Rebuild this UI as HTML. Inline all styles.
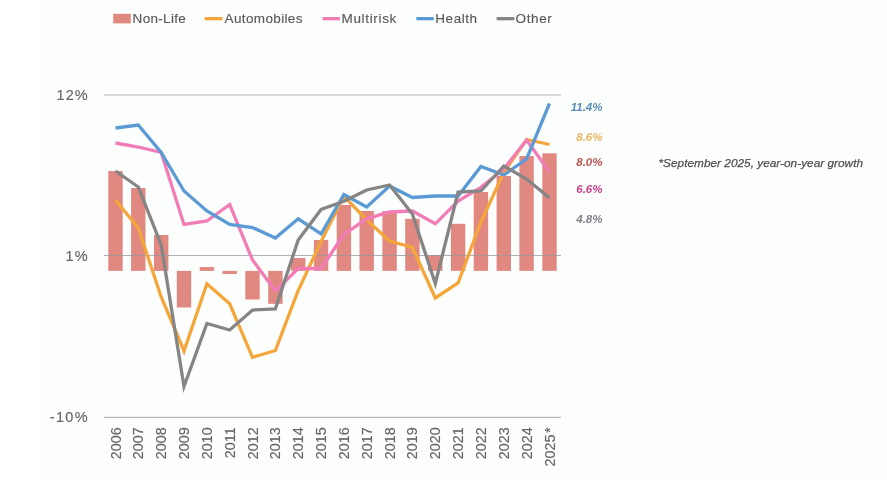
<!DOCTYPE html>
<html lang="en"><head><meta charset="utf-8"><title>Non-Life premium growth</title>
<style>
html,body{margin:0;padding:0;background:#fff;}
body{width:887px;height:500px;overflow:hidden;position:relative;font-family:"Liberation Sans",sans-serif;}
svg{position:absolute;left:0;top:0;display:block;}
text{font-family:"Liberation Sans",sans-serif;}
.ax{font-size:14.5px;fill:#666;stroke:#666;stroke-width:0.15px;}
.lg{font-size:13.5px;fill:#595959;stroke:#595959;stroke-width:0.15px;}
.yr{font-size:14.4px;fill:#666;stroke:#666;stroke-width:0.15px;}
.vl{font-size:11.5px;font-weight:bold;font-style:italic;}
.note{font-size:11.8px;font-style:italic;fill:#505050;stroke:#505050;stroke-width:0.25px;}
</style></head><body>
<svg width="887" height="500" viewBox="0 0 887 500">
<rect x="0" y="0" width="887" height="500" fill="#ffffff"/>
<rect x="40" y="0" width="847" height="479.3" fill="#fdfefe"/>

<line x1="104" x2="561" y1="95" y2="95" stroke="#b8b8b8" stroke-width="1.1"/>
<line x1="104" x2="561" y1="417.4" y2="417.4" stroke="#b8b8b8" stroke-width="1.1"/>
<rect x="108.3" y="171.0" width="14.4" height="99.9" fill="#e18981"/>
<rect x="131.1" y="188.0" width="14.4" height="82.9" fill="#e18981"/>
<rect x="154.0" y="235.0" width="14.4" height="35.9" fill="#e18981"/>
<rect x="176.8" y="270.9" width="14.4" height="36.6" fill="#e18981"/>
<rect x="199.7" y="267.0" width="14.4" height="3.9" fill="#e18981"/>
<rect x="222.5" y="270.9" width="14.4" height="3.1" fill="#e18981"/>
<rect x="245.3" y="270.9" width="14.4" height="28.6" fill="#e18981"/>
<rect x="268.2" y="270.9" width="14.4" height="32.9" fill="#e18981"/>
<rect x="291.0" y="258.0" width="14.4" height="12.9" fill="#e18981"/>
<rect x="313.9" y="240.0" width="14.4" height="30.9" fill="#e18981"/>
<rect x="336.7" y="205.0" width="14.4" height="65.9" fill="#e18981"/>
<rect x="359.5" y="211.0" width="14.4" height="59.9" fill="#e18981"/>
<rect x="382.4" y="211.0" width="14.4" height="59.9" fill="#e18981"/>
<rect x="405.2" y="218.8" width="14.4" height="52.1" fill="#e18981"/>
<rect x="428.1" y="255.0" width="14.4" height="15.9" fill="#e18981"/>
<rect x="450.9" y="223.8" width="14.4" height="47.1" fill="#e18981"/>
<rect x="473.7" y="192.0" width="14.4" height="78.9" fill="#e18981"/>
<rect x="496.6" y="176.0" width="14.4" height="94.9" fill="#e18981"/>
<rect x="519.4" y="156.0" width="14.4" height="114.9" fill="#e18981"/>
<rect x="542.3" y="153.3" width="14.4" height="117.6" fill="#e18981"/>
<line x1="104" x2="561" y1="255.5" y2="255.5" stroke="#94979c" stroke-width="0.75"/>
<polyline points="115.5,200.0 138.3,228.0 161.2,297.0 184.0,351.0 206.9,283.8 229.7,303.8 252.5,357.3 275.4,350.5 298.2,290.5 321.1,241.5 343.9,196.0 366.7,220.0 389.6,241.0 412.4,247.5 435.3,298.0 458.1,283.0 480.9,222.0 503.8,172.5 526.6,139.5 549.5,144.5" fill="none" stroke="#f5a63a" stroke-width="3.3" stroke-linejoin="miter" stroke-miterlimit="10" stroke-linecap="butt"/>
<polyline points="115.5,143.0 138.3,147.0 161.2,152.5 184.0,224.5 206.9,221.0 229.7,204.5 252.5,260.0 275.4,291.0 298.2,268.5 321.1,268.5 343.9,234.5 366.7,218.8 389.6,212.0 412.4,211.0 435.3,223.8 458.1,201.0 480.9,187.3 503.8,169.0 526.6,140.0 549.5,172.0" fill="none" stroke="#f27cb6" stroke-width="3.3" stroke-linejoin="miter" stroke-miterlimit="10" stroke-linecap="butt"/>
<polyline points="115.5,128.0 138.3,125.0 161.2,152.5 184.0,191.0 206.9,211.0 229.7,224.5 252.5,227.5 275.4,238.0 298.2,218.8 321.1,233.8 343.9,194.5 366.7,207.0 389.6,186.0 412.4,197.5 435.3,196.0 458.1,196.0 480.9,166.4 503.8,175.0 526.6,159.0 549.5,103.5" fill="none" stroke="#5b9bd5" stroke-width="3.3" stroke-linejoin="miter" stroke-miterlimit="10" stroke-linecap="butt"/>
<polyline points="115.5,171.0 138.3,187.0 161.2,245.0 184.0,386.5 206.9,323.5 229.7,330.0 252.5,310.0 275.4,308.8 298.2,240.0 321.1,209.5 343.9,201.3 366.7,190.0 389.6,185.0 412.4,214.0 435.3,283.5 458.1,192.0 480.9,191.0 503.8,166.0 526.6,179.0 549.5,198.0" fill="none" stroke="#858585" stroke-width="3.3" stroke-linejoin="miter" stroke-miterlimit="10" stroke-linecap="butt"/>
<text class="ax" x="56.5" y="99.8" textLength="31.2" lengthAdjust="spacing">12%</text>
<text class="ax" x="65.5" y="261.3" textLength="22.2" lengthAdjust="spacing">1%</text>
<text class="ax" x="49.7" y="422.0" textLength="38" lengthAdjust="spacing">-10%</text>
<text class="yr" text-anchor="end" transform="translate(120.5,427.3) rotate(-90)">2006</text>
<text class="yr" text-anchor="end" transform="translate(143.3,427.3) rotate(-90)">2007</text>
<text class="yr" text-anchor="end" transform="translate(166.2,427.3) rotate(-90)">2008</text>
<text class="yr" text-anchor="end" transform="translate(189.0,427.3) rotate(-90)">2009</text>
<text class="yr" text-anchor="end" transform="translate(211.9,427.3) rotate(-90)">2010</text>
<text class="yr" text-anchor="end" transform="translate(234.7,427.3) rotate(-90)">2011</text>
<text class="yr" text-anchor="end" transform="translate(257.5,427.3) rotate(-90)">2012</text>
<text class="yr" text-anchor="end" transform="translate(280.4,427.3) rotate(-90)">2013</text>
<text class="yr" text-anchor="end" transform="translate(303.2,427.3) rotate(-90)">2014</text>
<text class="yr" text-anchor="end" transform="translate(326.1,427.3) rotate(-90)">2015</text>
<text class="yr" text-anchor="end" transform="translate(348.9,427.3) rotate(-90)">2016</text>
<text class="yr" text-anchor="end" transform="translate(371.7,427.3) rotate(-90)">2017</text>
<text class="yr" text-anchor="end" transform="translate(394.6,427.3) rotate(-90)">2018</text>
<text class="yr" text-anchor="end" transform="translate(417.4,427.3) rotate(-90)">2019</text>
<text class="yr" text-anchor="end" transform="translate(440.3,427.3) rotate(-90)">2020</text>
<text class="yr" text-anchor="end" transform="translate(463.1,427.3) rotate(-90)">2021</text>
<text class="yr" text-anchor="end" transform="translate(485.9,427.3) rotate(-90)">2022</text>
<text class="yr" text-anchor="end" transform="translate(508.8,427.3) rotate(-90)">2023</text>
<text class="yr" text-anchor="end" transform="translate(531.6,427.3) rotate(-90)">2024</text>
<text class="yr" text-anchor="end" transform="translate(554.5,427.3) rotate(-90)">2025<tspan dx="1.6">*</tspan></text>
<rect x="113.2" y="13.8" width="17.6" height="9.6" fill="#e18981"/>
<text class="lg" x="132.6" y="23.4" textLength="53.2" lengthAdjust="spacing">Non-Life</text>
<line x1="204.6" x2="222.4" y1="18.65" y2="18.65" stroke="#f5a63a" stroke-width="3.3"/>
<text class="lg" x="224.5" y="23.4" textLength="78" lengthAdjust="spacing">Automobiles</text>
<line x1="322.6" x2="340.0" y1="18.65" y2="18.65" stroke="#f27cb6" stroke-width="3.3"/>
<text class="lg" x="341.5" y="23.4" textLength="54.8" lengthAdjust="spacing">Multirisk</text>
<line x1="416.3" x2="433.79999999999995" y1="18.65" y2="18.65" stroke="#5b9bd5" stroke-width="3.3"/>
<text class="lg" x="435.3" y="23.4" textLength="41.8" lengthAdjust="spacing">Health</text>
<line x1="496.6" x2="514.4" y1="18.65" y2="18.65" stroke="#858585" stroke-width="3.3"/>
<text class="lg" x="515.6" y="23.4" textLength="36.2" lengthAdjust="spacing">Other</text>
<text class="vl" x="602.5" y="110.5" text-anchor="end" fill="#5b8cb8">11.4%</text>
<text class="vl" x="602.5" y="140.6" text-anchor="end" fill="#e8b860">8.6%</text>
<text class="vl" x="602.5" y="166.0" text-anchor="end" fill="#b85450">8.0%</text>
<text class="vl" x="602.5" y="193.0" text-anchor="end" fill="#c8408c">6.6%</text>
<text class="vl" x="602.5" y="223.0" text-anchor="end" fill="#7f8088">4.8%</text>
<text class="note" x="658.5" y="167" textLength="204.5" lengthAdjust="spacing">*September 2025, year-on-year growth</text>
</svg></body></html>
